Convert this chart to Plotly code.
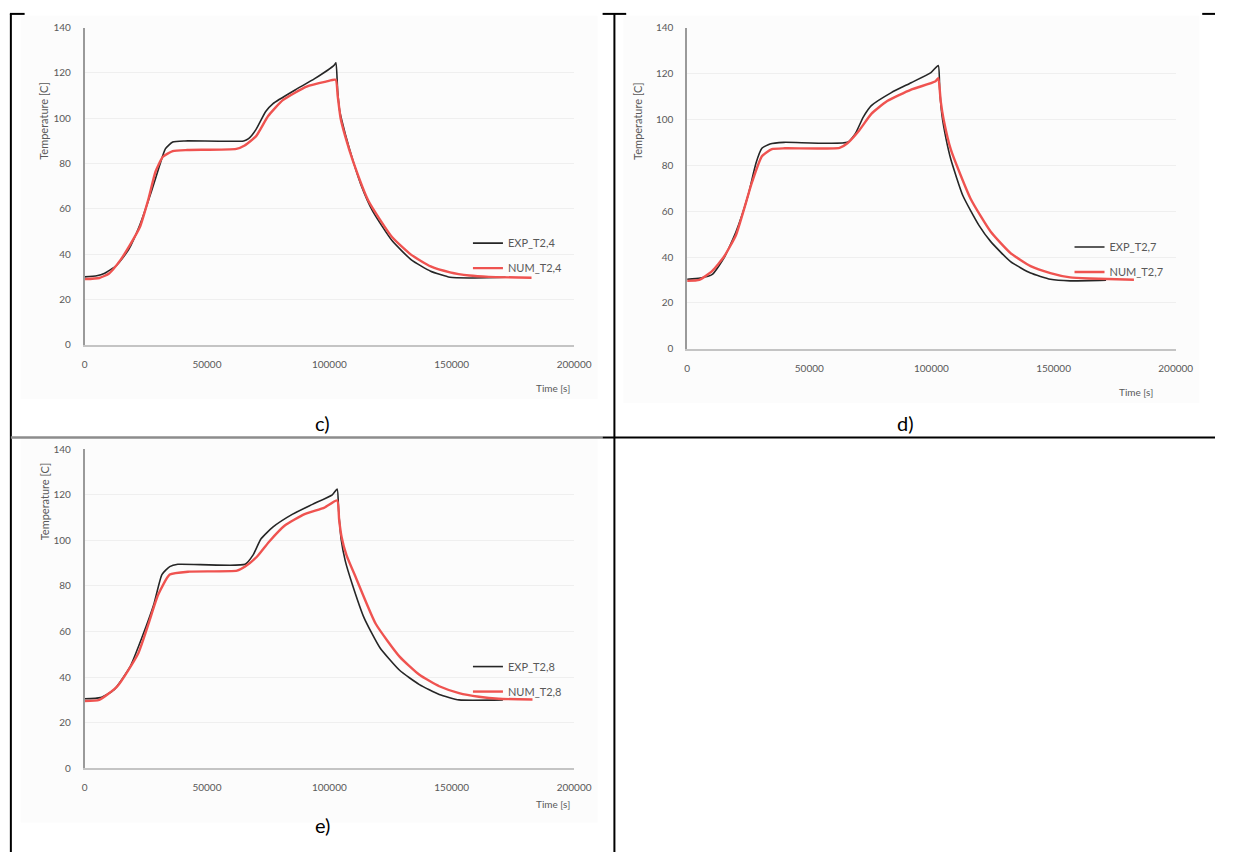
import plotly.graph_objects as go

W, H = 1233, 858

# ---------------- data ----------------
c_exp_t = [0, 5000, 8000, 13000, 18000, 22600, 27400, 30600, 33000, 36000, 41000, 65000, 67000, 70000, 74000, 77000,
           86000, 94000, 102000, 102700, 103400, 104200, 105000, 108200, 112900, 117700, 125600, 133500, 141400,
           149300, 157200, 172000]
c_exp_T = [30, 30.5, 31.5, 35, 42, 53, 68, 79, 86.5, 89.5, 90, 90, 91, 95, 103, 106.5,
           112.5, 117.5, 123.5, 124.5, 112, 103.5, 99.5, 86.6, 70.7, 59, 46, 37.5, 32.5,
           29.8, 29.5, 29.8]
c_num_t = [0, 6000, 10000, 14700, 18500, 22600, 26000, 29000, 32000, 36000, 42000, 62000, 65400, 70000, 75000,
           81000, 90700, 98600, 102600, 103400, 104600, 106500, 109700, 116000, 125600, 133500, 141400, 149300,
           157200, 165200, 182600]
c_num_T = [29, 29.5, 31.5, 37.5, 44, 52, 64, 76.5, 83, 85.5, 86, 86.5, 88, 92, 101,
           108, 114, 116.2, 117, 110, 100, 92, 81, 63.5, 47.6, 39.7, 34.6, 32,
           30.6, 30, 29.6]

d_exp_t = [0, 5400, 10300, 15100, 20000, 24900, 28200, 30600, 33900, 39600, 65600, 68900, 72100, 75400, 83600,
           91700, 99800, 102800, 103400, 104300, 106000, 108000, 112900, 119400, 124300, 132400, 140600, 148700,
           156800, 171500]
d_exp_T = [30.3, 30.8, 32.4, 39.6, 51, 66.7, 81, 87.4, 89.3, 90, 90, 93.9, 101, 106, 111.7,
           116, 120.4, 123.5, 113, 102, 91.5, 82.4, 66.7, 53.9, 46.7, 38, 33, 30.3,
           29.6, 29.9]
d_num_t = [0, 5000, 10300, 15000, 20000, 26500, 30600, 34700, 40000, 62400, 65600, 70500, 75400, 81900, 91700,
           101500, 102800, 103800, 105000, 108000, 116100, 124300, 132400, 140600, 148700, 156800, 165000, 182900]
d_num_T = [29.6, 30, 34, 40, 49.6, 72.4, 83.9, 87, 87.4, 87.6, 89.6, 95.3, 102.4, 108, 113,
           116.5, 118, 108, 100, 86.7, 65.3, 51, 41.7, 36, 33, 31.1, 30.6, 30.1]

e_exp_t = [0, 6500, 12100, 18600, 23500, 28300, 31600, 34800, 38100, 65600, 68800, 72100, 76900, 85000, 93100,
           101200, 103200, 103800, 104800, 106500, 109300, 114200, 120600, 128700, 136800, 144900, 153000, 170900]
e_exp_T = [30.5, 31, 34.5, 44.6, 57.6, 72, 85, 88.5, 89.5, 89.5, 93.5, 100.7, 105.8, 111.5, 115.8,
           120, 122.5, 113, 100.7, 91, 81, 66, 53, 43, 36.7, 32.4, 30, 30]
e_num_t = [0, 6000, 13400, 21900, 26000, 30000, 34800, 42900, 62300, 65600, 70400, 75300, 81800, 89900, 98000,
           103200, 104000, 105000, 107000, 110900, 119000, 128700, 136800, 144900, 153000, 161100, 169200, 183000]
e_num_T = [29.5, 30, 36, 50.4, 63, 76, 85, 86.3, 86.7, 88.5, 92.8, 99.3, 106.5, 111.5, 114.4,
           117.5, 109, 101.5, 93.5, 83.5, 63.3, 49, 41, 36, 33, 31.4, 30.5, 30.2]

panel_names = ["c)", "d)", "e)"]
exp_names = ["EXP_T2,4", "EXP_T2,7", "EXP_T2,8"]
num_names = ["NUM_T2,4", "NUM_T2,7", "NUM_T2,8"]
x_tickvals = [0, 50000, 100000, 150000, 200000]
y_tickvals = [0, 20, 40, 60, 80, 100, 120, 140]

# ---------------- layout helpers ----------------
def px(x):
    return x / W

def py(y):
    return 1 - y / H

# pixel geometry of each panel: (x0_axis, x200000, y0, y140)
geom = [(83, 581, 343, 21), (696, 1193, 347, 21), (83, 581, 773, 449)]
data = [(c_exp_t, c_exp_T, c_num_t, c_num_T),
        (d_exp_t, d_exp_T, d_num_t, d_num_T),
        (e_exp_t, e_exp_T, e_num_t, e_num_T)]

EXP_COLOR = "#262626"
NUM_COLOR = "#ef5350"
TXT = "#595959"
FONT = "Lato"

fig = go.Figure()
shapes = []
annotations = []
layout = dict(
    width=W, height=H,
    margin=dict(l=0, r=0, t=0, b=0),
    paper_bgcolor="white", plot_bgcolor="rgba(0,0,0,0)",
    showlegend=True,
)

for i in range(3):
    x0, x1, y0, y1 = geom[i]
    et, eT, nt, nT = data[i]
    sfx = "" if i == 0 else str(i + 1)
    xa, ya = "x" + sfx, "y" + sfx
    lg = "legend" + sfx
    fig.add_trace(go.Scatter(x=et, y=eT, mode="lines", name=exp_names[i],
                             line=dict(color=EXP_COLOR, width=1.6, shape="spline", smoothing=0.5),
                             xaxis=xa, yaxis=ya, legend=lg, legendgroup="e%d" % i))
    fig.add_trace(go.Scatter(x=nt, y=nT, mode="lines", name=num_names[i],
                             line=dict(color=NUM_COLOR, width=2.4, shape="spline", smoothing=0.5),
                             xaxis=xa, yaxis=ya, legend=lg, legendgroup="n%d" % i))
    layout["xaxis" + sfx] = dict(
        domain=[px(x0), px(x1)], range=[0, 200000], anchor=ya,
        tickvals=x_tickvals, tickformat="d", showgrid=False, zeroline=False,
        showline=True, linecolor="#c4c4c4", linewidth=2,
        ticks="outside", ticklen=9, tickcolor="rgba(0,0,0,0)",
        tickfont=dict(family=FONT, size=10, color=TXT), fixedrange=True,
    )
    layout["yaxis" + sfx] = dict(
        domain=[py(y0), py(y1)], range=[0, 140], anchor=xa,
        tickvals=y_tickvals, showgrid=True, gridcolor="#efefef", gridwidth=1,
        zeroline=False, showline=True, linecolor="#9a9a9a", linewidth=1.5,
        ticks="outside", ticklen=10, tickcolor="rgba(0,0,0,0)",
        tickfont=dict(family=FONT, size=10, color=TXT), fixedrange=True,
    )
    # legend, right side of plot
    layout[lg] = dict(
        x=px(x1 - 108), y=py(y0 - 118), xanchor="left", yanchor="top",
        bgcolor="rgba(0,0,0,0)", font=dict(family=FONT, size=11, color=TXT),
        itemwidth=30, tracegroupgap=6, traceorder="grouped",
    )
    # chart-area background
    shapes.append(dict(type="rect", xref="paper", yref="paper", layer="below",
                       x0=px(x0 - 65), x1=px(x1 + 24), y0=py(y0 + 55), y1=py(y1 - 12),
                       fillcolor="#fcfcfc", line=dict(width=0)))
    # axis titles
    annotations.append(dict(text="Temperature [C]", xref="paper", yref="paper",
                            x=px(x0 - 50), y=py(y1 + 53), textangle=-90, showarrow=False,
                            font=dict(family=FONT, size=11, color=TXT)))
    annotations.append(dict(text="Time [s]", xref="paper", yref="paper",
                            x=px(x1 - 21), y=py(y0 + 44), showarrow=False,
                            font=dict(family=FONT, size=10, color=TXT)))

# panel captions
cap_pos = [(315, 422), (929, 422), (315, 845)]
for name, (cx, cy) in zip(panel_names, cap_pos):
    annotations.append(dict(text=name, xref="paper", yref="paper", x=px(cx), y=py(cy),
                            showarrow=False, font=dict(family="Lato", size=20, color="black")))

# table lines
def seg(xa, ya, xb, yb, color="black", w=2):
    shapes.append(dict(type="line", xref="paper", yref="paper",
                       x0=px(xa), y0=py(ya), x1=px(xb), y1=py(yb),
                       line=dict(color=color, width=w)))

seg(8, 7, 8, 858)
seg(622, 7, 622, 858)
seg(7, 7, 22, 7)
seg(610, 7, 634, 7)
seg(1220, 7, 1233, 7)
seg(8, 437, 610, 437, color="#8c8c8c", w=2.5)
seg(610, 437, 1233, 437)

layout["shapes"] = shapes
layout["annotations"] = annotations
fig.update_layout(**layout)
fig.write_html("out.html", config={"displayModeBar": False},
               post_script="document.body.style.margin='0';document.body.style.overflow='hidden';")
